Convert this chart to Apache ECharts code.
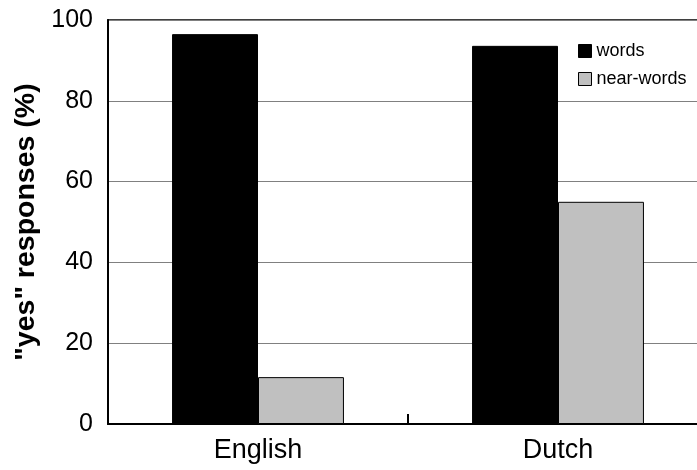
<!DOCTYPE html>
<html>
<head>
<meta charset="utf-8">
<script src="https://cdn.jsdelivr.net/npm/echarts@6/dist/echarts.min.js"></script>
<style>html,body{margin:0;padding:0;background:#fff;}#c{width:697px;height:470px;}</style>
</head>
<body>
<div id="c"></div>
<script>
const categories = ['English', 'Dutch'];
const wordsValues = [96.5, 93.6];
const nearWordsValues = [11.6, 55.0];
const yTicks = [0, 20, 40, 60, 80, 100];

const chart = echarts.init(document.getElementById('c'), null, {renderer: 'canvas'});
const font = '"Liberation Sans", Arial, sans-serif';
chart.setOption({
  animation: false,
  backgroundColor: '#fff',
  grid: {left: 108, top: 20, width: 600, height: 404, outerBoundsMode: 'none', containLabel: false,
         show: true, borderColor: '#000', borderWidth: 1.5, backgroundColor: 'transparent'},
  legend: {
    orient: 'vertical', left: 578, top: 42, padding: 0, itemWidth: 13, itemHeight: 13, itemGap: 10,
    textStyle: {fontFamily: font, fontSize: 18, color: '#000'},
    data: [
      {name: 'words', icon: 'rect', itemStyle: {color: '#000', borderColor: '#000', borderWidth: 1}},
      {name: 'near-words', icon: 'rect', itemStyle: {color: '#c0c0c0', borderColor: '#000', borderWidth: 1}}
    ]
  },
  xAxis: {
    type: 'category', data: categories,
    axisLine: {lineStyle: {color: '#000', width: 2}},
    axisTick: {show: true, inside: true, interval: 0, length: 10, lineStyle: {color: '#000', width: 2}},
    axisLabel: {fontFamily: font, fontSize: 27, color: '#000', margin: 13},
    splitLine: {show: false}
  },
  yAxis: {
    type: 'value', min: yTicks[0], max: yTicks[yTicks.length - 1], interval: 20,
    name: '"yes" responses (%)', nameLocation: 'middle', nameGap: 64,
    nameTextStyle: {fontFamily: font, fontSize: 28.5, fontWeight: 'bold', color: '#000'},
    axisLine: {show: true, lineStyle: {color: '#000', width: 2}},
    axisTick: {show: false},
    axisLabel: {fontFamily: font, fontSize: 25, color: '#000', margin: 15},
    splitLine: {show: true, lineStyle: {color: '#808080', width: 1}}
  },
  series: [
    {name: 'words', type: 'bar', data: wordsValues, barGap: '0%', barCategoryGap: '42.7%',
     itemStyle: {color: '#000', borderColor: '#000', borderWidth: 1}},
    {name: 'near-words', type: 'bar', data: nearWordsValues, barGap: '0%', barCategoryGap: '42.7%',
     itemStyle: {color: '#c0c0c0', borderColor: '#000', borderWidth: 1}}
  ]
});
</script>
</body>
</html>
